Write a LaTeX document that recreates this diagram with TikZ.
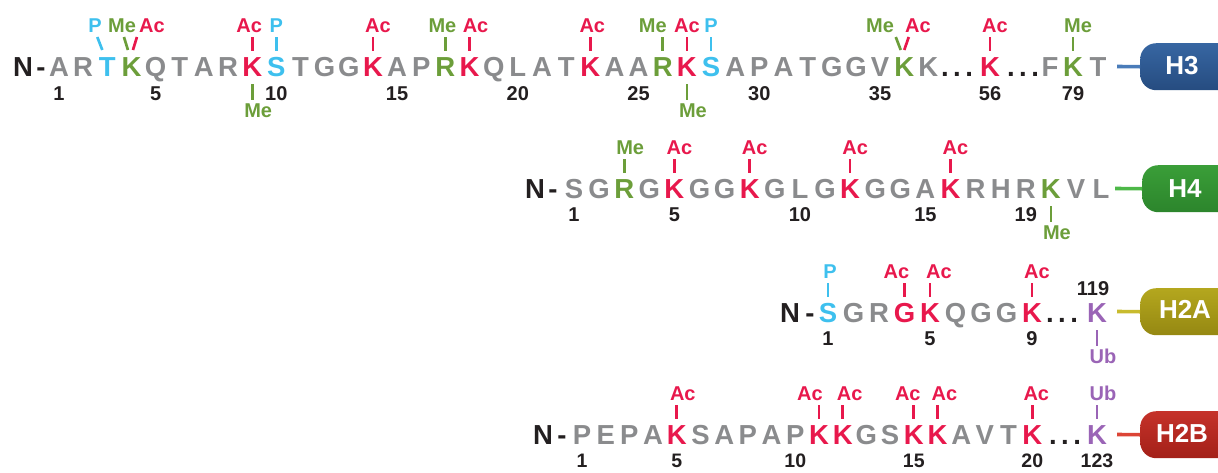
\documentclass[tikz,border=0pt]{standalone}
\usepackage{fontspec}
\setmainfont{Liberation Sans}
\usetikzlibrary{calc}
\definecolor{cgray}{HTML}{8A8B8D}
\definecolor{cred}{HTML}{E8184C}
\definecolor{cgreen}{HTML}{6C9E3A}
\definecolor{cblue}{HTML}{3EC0EE}
\definecolor{cpurp}{HTML}{9A64B6}
\definecolor{cblack}{HTML}{231F20}
\definecolor{hthreeT}{HTML}{3766A2}
\definecolor{hthreeM}{HTML}{4A7CB9}
\definecolor{hthreeB}{HTML}{264C80}
\definecolor{hfourT}{HTML}{3A9E38}
\definecolor{hfourM}{HTML}{4DB848}
\definecolor{hfourB}{HTML}{2C852C}
\definecolor{htwoaT}{HTML}{B4A71E}
\definecolor{htwoaM}{HTML}{C8BB2E}
\definecolor{htwoaB}{HTML}{958812}
\definecolor{htwobT}{HTML}{C5322A}
\definecolor{htwobM}{HTML}{DC4536}
\definecolor{htwobB}{HTML}{A32018}
\tikzset{
 res/.style={anchor=base, inner sep=0pt, font=\fontsize{27.5}{30}\selectfont\bfseries},
 lab/.style={anchor=base, inner sep=0pt, font=\fontsize{20}{22}\selectfont\bfseries},
 num/.style={lab, text=cblack},
 numsmall/.style={num, font=\fontsize{19.5}{22}\selectfont\bfseries},
 tick/.style={line width=2.7pt},
 link/.style={line width=3.6pt},
 capsule/.style={anchor=north west, minimum width=130pt, minimum height=47pt, rounded corners=16pt, inner sep=0pt},
 caplab/.style={anchor=base, inner sep=0pt, text=white, font=\fontsize{26}{28}\selectfont\bfseries},
}
\newcommand\modup[5][5]{%
  \node[lab,text=#3] (#5) at ($(#2.base)+(#1,-44)$) {#4};
  \draw[tick,#3] ($(#2.base)+(0,-39)$) -- ($(#2.base)+(0,-25)$);}
\newcommand\moddown[5][6]{%
  \node[lab,text=#3] (#5) at ($(#2.base)+(#1,41)$) {#4};
  \draw[tick,#3] ($(#2.base)+(0,8)$) -- ($(#2.base)+(0,24)$);}
\newcommand\tdots{.\hspace{4.5pt}.\hspace{4.5pt}.}
\begin{document}
\begin{tikzpicture}[x=1pt,y=-1pt]
\useasboundingbox (0,0) rectangle (1218,472);

% ---------------- H3 ----------------
\node[res,text=cblack] (h3N) at (23,76) {N};
\node[res,text=cblack] (h3dash) at (41,76) {-};
\foreach \c/\k [count=\i] in {A/cgray,R/cgray,T/cblue,K/cgreen,Q/cgray,T/cgray,A/cgray,R/cgray,K/cred,S/cblue,T/cgray,G/cgray,G/cgray,K/cred,A/cgray,P/cgray,R/cgreen,K/cred,Q/cgray,L/cgray,A/cgray,T/cgray,K/cred,A/cgray,A/cgray,R/cgreen,K/cred,S/cblue,A/cgray,P/cgray,A/cgray,T/cgray,G/cgray,G/cgray,V/cgray,K/cgreen,K/cgray}
  \node[res,text=\k] (h3r\i) at ({59+(\i-1)*24.15},76) {\c};
\node[res,text=cblack] (h3d1) at (957,76) {\tdots};
\node[res,text=cred] (h3r56) at (990,76) {K};
\node[res,text=cblack] (h3d2) at (1023,76) {\tdots};
\node[res,text=cgray] (h3r78) at (1050,76) {F};
\node[res,text=cgreen] (h3r79) at (1073,76) {K};
\node[res,text=cgray] (h3r80) at (1098,76) {T};
\foreach \i in {1,5,10,15,20,25,30,35,56,79}
  \node[num] (h3n\i) at ($(h3r\i.base)+(0,24)$) {\i};
% diagonal modifications
\node[lab,text=cblue] (h3p3) at (95,32) {P};
\draw[tick,cblue] ($(h3r3.base)+(-10,-39)$) -- ($(h3r3.base)+(-5,-26)$);
\node[lab,text=cgreen] (h3m4) at (122,32) {Me};
\draw[tick,cgreen] ($(h3r4.base)+(-7.5,-39)$) -- ($(h3r4.base)+(-3.5,-26)$);
\node[lab,text=cred] (h3a4) at (152,32) {Ac};
\draw[tick,cred] ($(h3r4.base)+(5.5,-39)$) -- ($(h3r4.base)+(1.5,-26)$);
\node[lab,text=cgreen] (h3m36) at (880,32) {Me};
\draw[tick,cgreen] ($(h3r36.base)+(-8.5,-39)$) -- ($(h3r36.base)+(-3.5,-26)$);
\node[lab,text=cred] (h3a36) at (918,32) {Ac};
\draw[tick,cred] ($(h3r36.base)+(4.5,-39)$) -- ($(h3r36.base)+(0,-26)$);
% vertical modifications
\modup[-3]{h3r9}{cred}{Ac}{h3a9}
\moddown{h3r9}{cgreen}{Me}{h3m9}
\modup[0]{h3r10}{cblue}{P}{h3p10}
\modup{h3r14}{cred}{Ac}{h3a14}
\modup[-3]{h3r17}{cgreen}{Me}{h3m17}
\modup[6]{h3r18}{cred}{Ac}{h3a18}
\modup[2]{h3r23}{cred}{Ac}{h3a23}
\modup[-10]{h3r26}{cgreen}{Me}{h3m26}
\modup[0]{h3r27}{cred}{Ac}{h3a27}
\moddown{h3r27}{cgreen}{Me}{h3m27}
\modup[0]{h3r28}{cblue}{P}{h3p28}
\modup{h3r56}{cred}{Ac}{h3a56}
\modup{h3r79}{cgreen}{Me}{h3m79}
% capsule
\coordinate (h3end) at (1117,66.5);
\node[capsule, top color=hthreeT, middle color=hthreeM, bottom color=hthreeB] (h3cap) at (1140,43) {};
\draw[link,hthreeM] (h3end) -- (h3cap.west);
\node[caplab] (h3lab) at (1182,74) {H3};

% ---------------- H4 ----------------
\node[res,text=cblack] (h4N) at (535,198) {N};
\node[res,text=cblack] (h4dash) at (553,198) {-};
\foreach \c/\k [count=\i] in {S/cgray,G/cgray,R/cgreen,G/cgray,K/cred,G/cgray,G/cgray,K/cred,G/cgray,L/cgray,G/cgray,K/cred,G/cgray,G/cgray,A/cgray,K/cred,R/cgray,H/cgray,R/cgray,K/cgreen,V/cgray,L/cgray}
  \node[res,text=\k] (h4r\i) at ({574+(\i-1)*25.1},198) {\c};
\foreach \i in {1,5,10,15,19}
  \node[num] (h4n\i) at ($(h4r\i.base)+(0,23)$) {\i};
\modup[6]{h4r3}{cgreen}{Me}{h4m3}
\modup{h4r5}{cred}{Ac}{h4a5}
\modup{h4r8}{cred}{Ac}{h4a8}
\modup{h4r12}{cred}{Ac}{h4a12}
\modup{h4r16}{cred}{Ac}{h4a16}
\moddown{h4r20}{cgreen}{Me}{h4m20}
\coordinate (h4end) at (1115,188.5);
\node[capsule, top color=hfourT, middle color=hfourM, bottom color=hfourB] (h4cap) at (1142,165) {};
\draw[link,hfourM] (h4end) -- (h4cap.west);
\node[caplab] (h4lab) at (1185,197) {H4};

% ---------------- H2A ----------------
\node[res,text=cblack] (h2aN) at (790,322) {N};
\node[res,text=cblack] (h2adash) at (810,322) {-};
\foreach \c/\k [count=\i] in {S/cblue,G/cgray,R/cgray,G/cred,K/cred,Q/cgray,G/cgray,G/cgray,K/cred}
  \node[res,text=\k] (h2ar\i) at ({828+(\i-1)*25.5},322) {\c};
\node[res,text=cblack] (h2ad) at (1062,322) {\tdots};
\node[res,text=cpurp] (h2ar119) at (1097,322) {K};
\foreach \i in {1,5,9}
  \node[num] (h2an\i) at ($(h2ar\i.base)+(0,23)$) {\i};
\node[num] (h2an119) at ($(h2ar119.base)+(-4,-27)$) {119};
\modup[2]{h2ar1}{cblue}{P}{h2ap1}
\modup[-8]{h2ar4}{cred}{Ac}{h2aa4}
\modup[9]{h2ar5}{cred}{Ac}{h2aa5}
\modup{h2ar9}{cred}{Ac}{h2aa9}
\moddown{h2ar119}{cpurp}{Ub}{h2au119}
\coordinate (h2aend) at (1117,311.5);
\node[capsule, top color=htwoaT, middle color=htwoaM, bottom color=htwoaB] (h2acap) at (1140,288) {};
\draw[link,htwoaM] (h2aend) -- (h2acap.west);
\node[caplab] (h2alab) at (1185,318) {H2A};

% ---------------- H2B ----------------
\node[res,text=cblack] (h2bN) at (543,444) {N};
\node[res,text=cblack] (h2bdash) at (562,444) {-};
\foreach \c/\k [count=\i] in {P/cgray,E/cgray,P/cgray,A/cgray,K/cred,S/cgray,A/cgray,P/cgray,A/cgray,P/cgray,K/cred,K/cred,G/cgray,S/cgray,K/cred,K/cred,A/cgray,V/cgray,T/cgray,K/cred}
  \node[res,text=\k] (h2br\i) at ({582+(\i-1)*23.7},444) {\c};
\node[res,text=cblack] (h2bd) at (1065,444) {\tdots};
\node[res,text=cpurp] (h2br123) at (1097,444) {K};
\foreach \i in {1,5,10,15,20,123}
  \node[numsmall] (h2bn\i) at ($(h2br\i.base)+(0,23.5)$) {\i};
\modup[6]{h2br5}{cred}{Ac}{h2ba5}
\modup[-9]{h2br11}{cred}{Ac}{h2ba11}
\modup[7]{h2br12}{cred}{Ac}{h2ba12}
\modup[-6]{h2br15}{cred}{Ac}{h2ba15}
\modup[7]{h2br16}{cred}{Ac}{h2ba16}
\modup[4]{h2br20}{cred}{Ac}{h2ba20}
\modup[6]{h2br123}{cpurp}{Ub}{h2bu123}
\coordinate (h2bend) at (1117,434.5);
\node[capsule, top color=htwobT, middle color=htwobM, bottom color=htwobB] (h2bcap) at (1140,411) {};
\draw[link,htwobM] (h2bend) -- (h2bcap.west);
\node[caplab] (h2blab) at (1182,442) {H2B};
\end{tikzpicture}
\end{document}
